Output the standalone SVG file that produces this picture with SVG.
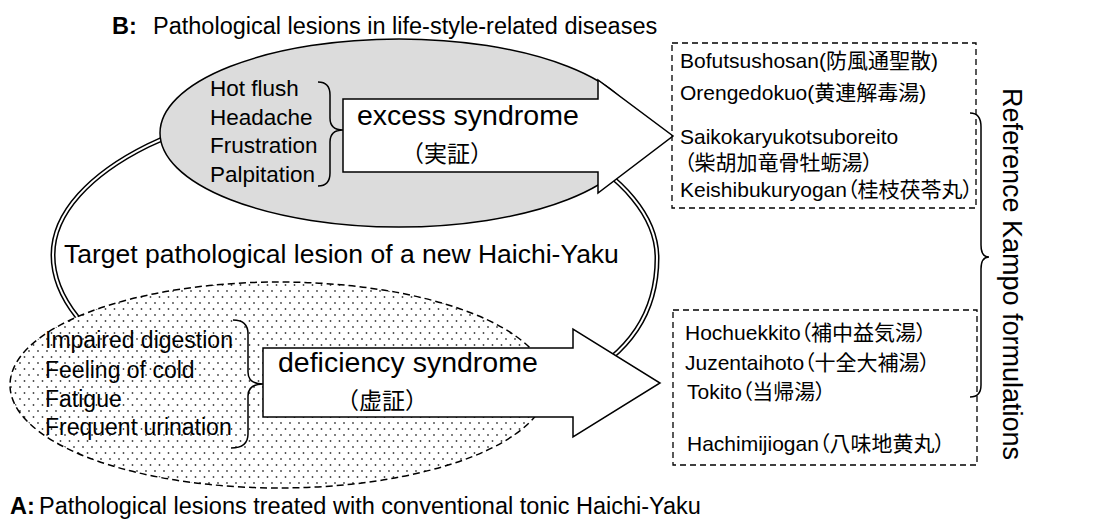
<svg xmlns="http://www.w3.org/2000/svg" width="1115" height="525" viewBox="0 0 1115 525">
  <defs>
    <pattern id="dots" width="9" height="12" patternUnits="userSpaceOnUse">
      <rect width="9" height="12" fill="#ffffff"/>
      <circle cx="2" cy="3" r="0.9" fill="#444"/>
      <circle cx="6.5" cy="9" r="0.9" fill="#444"/>
    </pattern>
    <style>
      text { font-family: "Liberation Sans", "Noto Sans CJK JP", sans-serif; fill: #000; }
      .title { font-size: 23.5px; }
      .list { font-size: 22.5px; }
      .big { font-size: 28.5px; }
      .target { font-size: 26.5px; }
      .jp { font-size: 23px; }
      .box { font-size: 21px; font-feature-settings: "palt"; }
      .vert { font-size: 27px; }
      .arrow { fill: #fff; stroke: #000; stroke-width: 1.5; stroke-linejoin: miter; }
      .dashbox { fill: none; stroke: #000; stroke-width: 1.3; stroke-dasharray: 6 4; }
      .brace { fill: none; stroke: #000; stroke-width: 1.5; }
    </style>
  </defs>
  <rect width="1115" height="525" fill="#ffffff"/>

  <g id="ellipse-target">
    <path id="target-outline" d="M355,100 C205,100 53,170 53,255 C53,340 190,420 355,420 C540,420 657,370 657,258 C657,175 520,100 355,100 Z" fill="#ffffff" stroke="#000" stroke-width="5"/>
    <path d="M355,100 C205,100 53,170 53,255 C53,340 190,420 355,420 C540,420 657,370 657,258 C657,175 520,100 355,100 Z" fill="none" stroke="#fff" stroke-width="2"/>
    <text class="target" x="64" y="263">Target pathological lesion of  a new Haichi-Yaku</text>
  </g>

  <g id="ellipse-excess">
    <ellipse cx="399" cy="133" rx="239" ry="94" fill="#dcdcdc" stroke="#000" stroke-width="1.5"/>
    <text class="list" x="210" y="96">Hot flush</text>
    <text class="list" x="210" y="125">Headache</text>
    <text class="list" x="210" y="153">Frustration</text>
    <text class="list" x="210" y="182">Palpitation</text>
  </g>

  <g id="ellipse-deficiency">
    <ellipse cx="279" cy="385" rx="269" ry="103" fill="url(#dots)" stroke="#000" stroke-width="1.5" stroke-dasharray="7 4"/>
    <text class="list" x="45" y="348" style="font-size:23px">Impaired digestion</text>
    <text class="list" x="45" y="378" style="font-size:23px">Feeling of cold</text>
    <text class="list" x="45" y="407" style="font-size:23px">Fatigue</text>
    <text class="list" x="45" y="435" style="font-size:23px">Frequent urination</text>
  </g>

  <g id="arrow-excess">
    <polygon class="arrow" points="343,99 598,99 598,80 673,136 598,193 598,172 343,172"/>
    <text class="big" x="357" y="125">excess syndrome</text>
    <text class="jp" x="447" y="162" text-anchor="middle">（実証）</text>
  </g>

  <g id="arrow-deficiency">
    <polygon class="arrow" points="263,348 573,348 573,329 660,383 573,437 573,417 263,417"/>
    <text class="big" x="278" y="372">deficiency syndrome</text>
    <text class="jp" x="382" y="409" text-anchor="middle">（虚証）</text>
  </g>

  <g id="box-excess">
    <rect class="dashbox" x="672" y="43" width="304" height="165"/>
    <text class="box" x="680" y="68">Bofutsushosan(防風通聖散)</text>
    <text class="box" x="680" y="100">Orengedokuo(黄連解毒湯)</text>
    <text class="box" x="680" y="144">Saikokaryukotsuboreito</text>
    <text class="box" x="684" y="170">（柴胡加竜骨牡蛎湯）</text>
    <text class="box" x="680" y="197">Keishibukuryogan（桂枝茯苓丸）</text>
  </g>

  <g id="box-deficiency">
    <rect class="dashbox" x="673" y="310" width="304" height="155"/>
    <text class="box" x="685" y="340">Hochuekkito（補中益気湯）</text>
    <text class="box" x="685" y="370">Juzentaihoto（十全大補湯）</text>
    <text class="box" x="687" y="399">Tokito（当帰湯）</text>
    <text class="box" x="687" y="451">Hachimijiogan（八味地黄丸）</text>
  </g>

  <g id="label-reference">
    <text class="vert" transform="translate(1003,274) rotate(90)" text-anchor="middle">Reference Kampo formulations</text>
  </g>

  <g id="title-b">
    <text class="title" x="112" y="34"><tspan font-weight="bold">B:</tspan><tspan x="153">Pathological lesions in life-style-related diseases</tspan></text>
  </g>

  <g id="title-a">
    <text class="title" x="10" y="514"><tspan font-weight="bold">A:</tspan><tspan x="39">Pathological lesions treated with conventional tonic Haichi-Yaku</tspan></text>
  </g>

  <g id="connectors">
    <path class="brace" d="M318,82 Q330,82 330,95 L330,118 Q330,130 343,130 Q330,130 330,142 L330,173 Q330,186 318,186"/>
    <path class="brace" d="M233,320 Q248,320 248,334 L248,372 Q248,384 263,384 Q248,384 248,396 L248,434 Q248,448 231,448"/>
    <path class="brace" d="M970,113 Q981,113 981,127 L981,245 Q981,257 989,257 Q981,257 981,269 L981,385 Q981,397 970,397"/>
  </g>
</svg>
